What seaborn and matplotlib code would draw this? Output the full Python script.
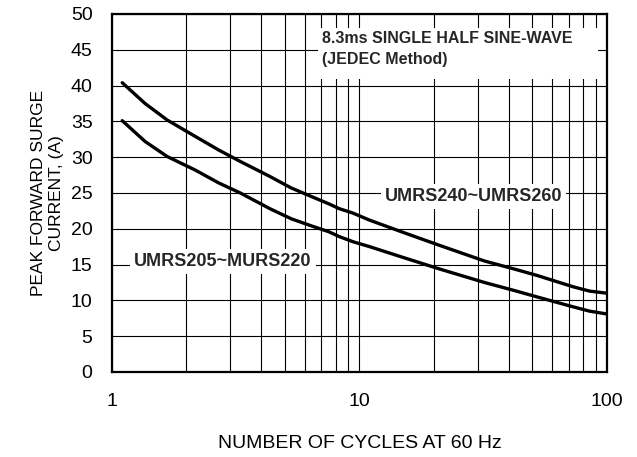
import matplotlib
matplotlib.use("Agg")
import matplotlib.pyplot as plt
from matplotlib.ticker import LogLocator, NullFormatter
from matplotlib.patches import Rectangle
import seaborn as sns
import pandas as pd

# values
cycles = [1.1, 1.36, 1.67, 2.17, 2.7, 3.3, 4.35, 5.3, 6.4, 7.5, 8.3, 9.4, 11,
          15, 21, 32, 42, 52, 73, 85, 100]
surge_240_260 = [40.4, 37.5, 35.2, 32.9, 31.0, 29.4, 27.3, 25.7, 24.5, 23.5, 22.8, 22.2, 21.2,
                 19.5, 17.7, 15.5, 14.4, 13.5, 11.9, 11.3, 11.0]
surge_205_220 = [35.1, 32.2, 30.1, 28.2, 26.4, 25.0, 22.8, 21.4, 20.4, 19.6, 18.9, 18.2, 17.5,
                 16.0, 14.4, 12.5, 11.4, 10.5, 9.1, 8.5, 8.1]

x_ticks = [1, 10, 100]
x_tick_labels = ["1", "10", "100"]
y_ticks = list(range(0, 55, 5))

series_names = ["UMRS240~UMRS260", "UMRS205~MURS220"]
note_lines = "8.3ms SINGLE HALF SINE-WAVE\n(JEDEC Method)"

df = pd.concat([
    pd.DataFrame({"cycles": cycles, "current": surge_240_260, "part": series_names[0]}),
    pd.DataFrame({"cycles": cycles, "current": surge_205_220, "part": series_names[1]}),
])

sns.set_theme(style="white")
plt.rcParams["font.family"] = ["Liberation Sans", "DejaVu Sans"]

fig = plt.figure(figsize=(6.37, 4.57), dpi=100)
ax = fig.add_axes([0.1758, 0.186, 0.7771, 0.7834])

sns.lineplot(data=df, x="cycles", y="current", units="part", estimator=None,
             color="black", linewidth=2.4, ax=ax, legend=False, zorder=5)

ax.set_xscale("log")
ax.set_xlim(1, 100)
ax.set_ylim(0, 50)
ax.set_xticks(x_ticks)
ax.set_xticklabels(x_tick_labels)
ax.xaxis.set_minor_locator(LogLocator(base=10, subs=range(2, 10)))
ax.xaxis.set_minor_formatter(NullFormatter())
ax.set_yticks(y_ticks)

ax.grid(True, which="both", axis="x", color="black", linewidth=0.8)
ax.grid(True, which="major", axis="y", color="black", linewidth=0.8)
ax.set_axisbelow(True)

ax.tick_params(axis="both", which="both", length=0, labelsize=14, colors="black")
ax.tick_params(axis="x", pad=15)
ax.tick_params(axis="y", pad=14)

for s in ax.spines.values():
    s.set_color("black")
    s.set_linewidth(1.6)

ax.set_xlabel("NUMBER OF CYCLES AT 60 Hz", fontsize=14, labelpad=18, color="black")
ax.set_ylabel("PEAK FORWARD SURGE\nCURRENT, (A)", fontsize=12.5, labelpad=5,
              linespacing=1.25, color="black")

# white panel behind the test-condition note
ax.add_patch(Rectangle((6.8, 40.9), 92 - 6.8, 48.0 - 40.9, facecolor="white",
                       edgecolor="none", zorder=3))
ax.text(7.05, 47.6, note_lines, fontsize=11.5, fontweight="bold", ha="left", va="top",
        linespacing=1.45, zorder=4)

box = dict(facecolor="white", edgecolor="none", pad=3)
ax.text(28.9, 24.5, series_names[0], fontsize=13, fontweight="bold",
        ha="center", va="center", bbox=box, zorder=4)
ax.text(2.8, 15.4, series_names[1], fontsize=13, fontweight="bold",
        ha="center", va="center", bbox=box, zorder=4)

fig.savefig("out.png", dpi=100)
